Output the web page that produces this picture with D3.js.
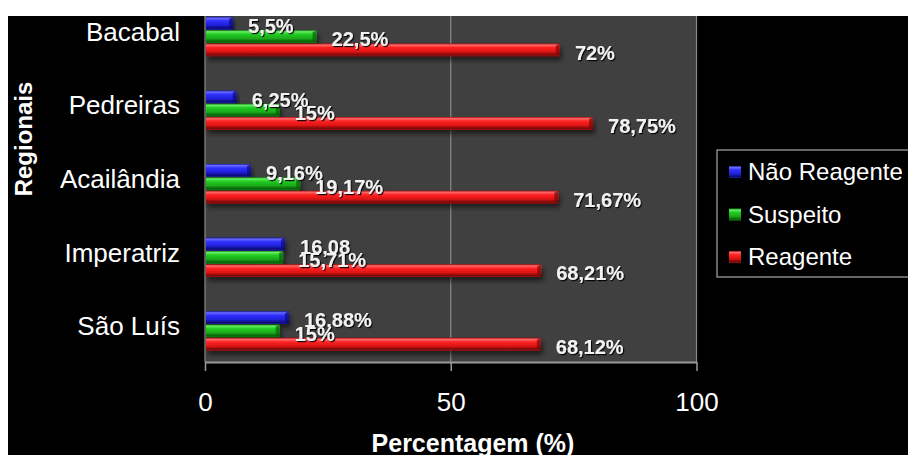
<!DOCTYPE html>
<html>
<head>
<meta charset="utf-8">
<script src="https://cdn.jsdelivr.net/npm/d3@7"></script>
<style>
  html, body { margin: 0; padding: 0; background: #ffffff; }
  svg { display: block; font-family: "Liberation Sans", Arial, sans-serif; }
</style>
</head>
<body>
<div id="graph"></div>
<script>
//----------------------------------------------------------

// chart data
var regionais = ["Bacabal", "Pedreiras", "Acailândia", "Imperatriz", "São Luís"];
var naoReagente = [5.5, 6.25, 9.16, 16.08, 16.88];
var suspeito = [22.5, 15, 19.17, 15.71, 15];
var reagente = [72, 78.75, 71.67, 68.21, 68.12];

var rotulosNaoReagente = ["5,5%", "6,25%", "9,16%", "16,08", "16,88%"];
var rotulosSuspeito = ["22,5%", "15%", "19,17%", "15,71%", "15%"];
var rotulosReagente = ["72%", "78,75%", "71,67%", "68,21%", "68,12%"];

var series = ["Não Reagente", "Suspeito", "Reagente"];
var xTicks = [0, 50, 100];

// bar colours: [edge, highlight, main, shade, dark]
var g_colours = {
    "Não Reagente": ["#1a1aa8", "#6a6aff", "#3030ff", "#2020d8", "#0c0c78"],
    "Suspeito":     ["#118a11", "#66ee66", "#22cc22", "#1aaa1a", "#0a600a"],
    "Reagente":     ["#a80c0c", "#ff6a6a", "#ff2222", "#dd1414", "#780808"]
};

var W = 908, H = 455;
var plot = { left: 205, right: 696.5, top: 16, bottom: 362 };

var g_svg = d3.select("#graph")
  .append("svg")
    .attr("width", W)
    .attr("height", H);

var g_defs = g_svg.append("defs");


//----------------------------------------------------------
function MakeGradients() {
    series.forEach(function (name, i) {
        var c = g_colours[name];
        var grad = g_defs.append("linearGradient")
            .attr("id", "grad-" + i)
            .attr("x1", 0).attr("y1", 0)
            .attr("x2", 0).attr("y2", 1);
        [[0, c[0]], [0.12, c[1]], [0.32, c[2]], [0.65, c[3]], [0.88, c[4]], [1, c[0]]]
          .forEach(function (s) {
              grad.append("stop").attr("offset", s[0]).attr("stop-color", s[1]);
          });
    });

    var shadow = g_defs.append("filter")
        .attr("id", "bar-shadow")
        .attr("x", "-5%").attr("y", "-30%")
        .attr("width", "115%").attr("height", "190%");
    shadow.append("feDropShadow")
        .attr("dx", 2).attr("dy", 4)
        .attr("stdDeviation", 2.5)
        .attr("flood-color", "#000")
        .attr("flood-opacity", 0.55);

    var tshadow = g_defs.append("filter").attr("id", "text-shadow");
    tshadow.append("feDropShadow")
        .attr("dx", 1.2).attr("dy", 1.2)
        .attr("stdDeviation", 0.7)
        .attr("flood-color", "#000")
        .attr("flood-opacity", 0.9);

    g_defs.append("clipPath")
        .attr("id", "plot-clip")
      .append("rect")
        .attr("x", plot.left)
        .attr("y", plot.top)
        .attr("width", W - plot.left)
        .attr("height", plot.bottom - plot.top);
}


//----------------------------------------------------------
function DrawChart() {
    MakeGradients();

    // black chart area, white margin at top and left
    g_svg.append("rect")
        .attr("x", 8).attr("y", 16)
        .attr("width", W - 8).attr("height", H - 16)
        .attr("fill", "#000");

    var x = d3.scaleLinear()
        .domain([0, 100])
        .range([plot.left, plot.right]);

    var y = d3.scaleBand()
        .domain(regionais)
        .range([0, 368]);

    var y1 = d3.scaleBand()
        .domain(series)
        .range([-20, 20]);

    // plot area
    g_svg.append("rect")
        .attr("x", plot.left).attr("y", plot.top)
        .attr("width", plot.right - plot.left)
        .attr("height", plot.bottom - plot.top)
        .attr("fill", "#404040");

    // gridlines
    g_svg.append("g")
      .selectAll("line")
      .data(xTicks)
      .join("line")
        .attr("x1", function (d) { return x(d); })
        .attr("x2", function (d) { return x(d); })
        .attr("y1", plot.top)
        .attr("y2", plot.bottom)
        .attr("stroke", "#8a8a8a")
        .attr("stroke-width", 1.2);

    // x axis
    var axis = g_svg.append("g")
        .attr("transform", "translate(0," + plot.bottom + ")")
        .call(d3.axisBottom(x).tickValues(xTicks).tickSize(9).tickPadding(22).tickSizeOuter(0));
    axis.select(".domain").attr("stroke", "#9a9a9a").attr("stroke-width", 2);
    axis.selectAll(".tick line").attr("stroke", "#9a9a9a").attr("stroke-width", 1.5);
    axis.selectAll(".tick text")
        .attr("fill", "#fff")
        .attr("font-size", 26)
        .attr("font-family", "Liberation Sans, Arial, sans-serif");

    // category labels
    g_svg.append("g")
      .selectAll("text")
      .data(regionais)
      .join("text")
        .attr("x", 180)
        .attr("y", function (d) { return y(d) + y.bandwidth() / 2 + 4; })
        .attr("text-anchor", "end")
        .attr("fill", "#fff")
        .attr("font-size", 26)
        .text(function (d) { return d; });

    // bars
    var rows = [];
    regionais.forEach(function (r, i) {
        rows.push({ cat: r, s: 0, value: naoReagente[i], label: rotulosNaoReagente[i] });
        rows.push({ cat: r, s: 1, value: suspeito[i], label: rotulosSuspeito[i] });
        rows.push({ cat: r, s: 2, value: reagente[i], label: rotulosReagente[i] });
    });

    var bars = g_svg.append("g").attr("clip-path", "url(#plot-clip)");

    bars.selectAll("rect")
      .data(rows)
      .join("rect")
        .attr("x", x(0) + 1)
        .attr("y", function (d) {
            return y(d.cat) + y.bandwidth() / 2 + y1(series[d.s]);
        })
        .attr("width", function (d) { return x(d.value) - x(0); })
        .attr("height", y1.bandwidth() - 0.5)
        .attr("rx", 1)
        .attr("fill", function (d) { return "url(#grad-" + d.s + ")"; })
        .attr("filter", "url(#bar-shadow)");

    // bevelled right ends
    bars.selectAll("path.cap")
      .data(rows)
      .join("path")
        .attr("class", "cap")
        .attr("d", function (d) {
            var x1 = x(d.value) + 1, y0 = y(d.cat) + y.bandwidth() / 2 + y1(series[d.s]);
            var h = y1.bandwidth() - 0.5;
            return "M" + (x1 - 4) + "," + (y0 + 2) + "L" + x1 + "," + y0 +
                   "L" + x1 + "," + (y0 + h) + "L" + (x1 - 4) + "," + (y0 + h - 2) + "Z";
        })
        .attr("fill", function (d) { return g_colours[series[d.s]][4]; })
        .attr("opacity", 0.7);

    // data labels
    bars.selectAll("text")
      .data(rows)
      .join("text")
        .attr("x", function (d) { return x(d.value) + 16; })
        .attr("y", function (d) {
            return y(d.cat) + y.bandwidth() / 2 + y1(series[d.s]) + y1.bandwidth() / 2 + 9.5;
        })
        .attr("fill", "#f2f2f2")
        .attr("font-size", 20)
        .attr("font-weight", "bold")
        .attr("filter", "url(#text-shadow)")
        .text(function (d) { return d.label; });

    // axis titles
    g_svg.append("text")
        .attr("x", 473)
        .attr("y", 452)
        .attr("text-anchor", "middle")
        .attr("fill", "#fff")
        .attr("font-size", 25)
        .attr("font-weight", "bold")
        .text("Percentagem (%)");

    g_svg.append("text")
        .attr("transform", "translate(32,139) rotate(-90)")
        .attr("text-anchor", "middle")
        .attr("fill", "#fff")
        .attr("font-size", 24)
        .attr("font-weight", "bold")
        .text("Regionais");

    // legend
    var legend = g_svg.append("g");
    legend.append("rect")
        .attr("x", 717).attr("y", 150)
        .attr("width", 260).attr("height", 127)
        .attr("fill", "#000")
        .attr("stroke", "#a8a8a8")
        .attr("stroke-width", 1.2);

    var items = legend.selectAll("g.item")
      .data(series)
      .join("g")
        .attr("class", "item")
        .attr("transform", function (d, i) {
            return "translate(0," + (180 + i * 42.5) + ")";
        });

    items.append("rect")
        .attr("x", 729).attr("y", -14)
        .attr("width", 12).attr("height", 12)
        .attr("fill", function (d, i) { return "url(#grad-" + i + ")"; });

    items.append("text")
        .attr("x", 748)
        .attr("y", 0)
        .attr("fill", "#fff")
        .attr("font-size", 24)
        .text(function (d) { return d; });
}


//----------------------------------------------------------
DrawChart();
</script>
</body>
</html>
